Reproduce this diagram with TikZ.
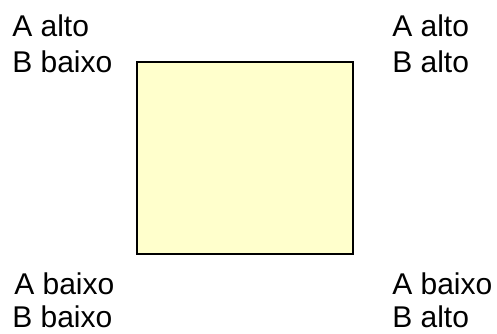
\documentclass[tikz,border=0pt]{standalone}
\usepackage{fontspec}
\setmainfont{Liberation Sans}
\usepackage{tikz}
\usetikzlibrary{positioning}

\definecolor{amarelo}{HTML}{FFFFCC}

\begin{document}
\begin{tikzpicture}[
        x=0.75pt, y=-0.75pt,
        % Estilos do quadrado e dos rotulos
        quadbox/.style={rectangle, draw=black, line width=0.8pt, fill=amarelo, minimum width=162pt, minimum height=144pt, inner sep=0pt},
        rotulo/.style={anchor=base west, inner sep=0pt, font=\fontsize{22.5}{27}\selectfont}
    ]

    \useasboundingbox (0,0) rectangle (497,334);

    % Quadrado central
    \node (quad) [quadbox] at (245,158) {};

    % Canto superior esquerdo
    \node (slA) [rotulo] at (12,37) {A alto};
    \node (slB) [rotulo] at (12,73) {B baixo};

    % Canto superior direito
    \node (srA) [rotulo] at (392,37) {A alto};
    \node (srB) [rotulo] at (392,73) {B alto};

    % Canto inferior esquerdo
    \node (ilA) [rotulo] at (14,295) {A baixo};
    \node (ilB) [rotulo] at (12,328) {B baixo};

    % Canto inferior direito
    \node (irA) [rotulo] at (392,295) {A baixo};
    \node (irB) [rotulo] at (392,328) {B alto};

\end{tikzpicture}
\end{document}
